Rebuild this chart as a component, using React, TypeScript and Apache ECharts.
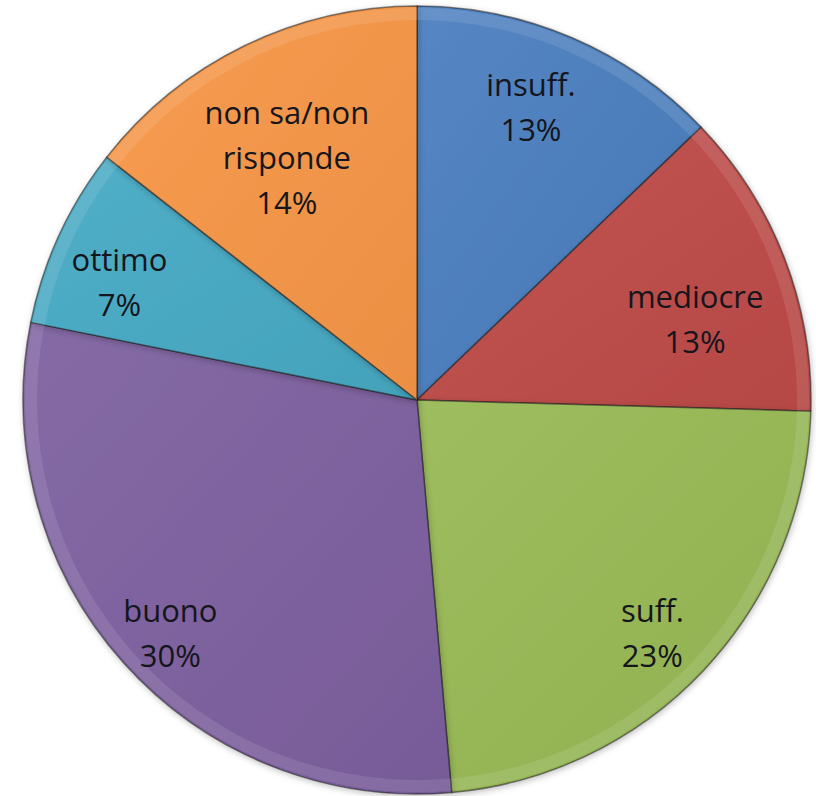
import React, { useEffect, useRef } from "react";
import * as echarts from "echarts";

const categories = ["insuff.", "mediocre", "suff.", "buono", "ottimo", "non sa/non risponde"];
// shares (%); labels show them rounded
const values = [12.8, 12.6, 23.1, 29.5, 7.4, 14.4];
const colors = ["#4A7EBF", "#BE4B48", "#98B954", "#7D60A0", "#46AAC5", "#F79646"];
// small label nudges (px) to mimic the reference's best-fit label placement
const labelNudgeX = [-8, -12, 9, -15, -15, 6];
const labelNudgeY = [-7, 30, 19, 25, 12, 37];

function shade(hex: string, amt: number): string {
  const n = parseInt(hex.slice(1), 16);
  const f = (c: number) => Math.max(0, Math.min(255, Math.round(amt >= 0 ? c + (255 - c) * amt : c * (1 + amt))));
  const r = f((n >> 16) & 255), g = f((n >> 8) & 255), b = f(n & 255);
  return `rgb(${r},${g},${b})`;
}

export default function App() {
  const ref = useRef<HTMLDivElement>(null);
  useEffect(() => {
    if (!ref.current) return;
    const chart = echarts.init(ref.current, null, { renderer: "svg" });
    const data = categories.map((name, i) => ({
      name,
      value: values[i],
      itemStyle: {
        color: {
          type: "linear",
          x: 0, y: 0, x2: 1, y2: 1,
          colorStops: [
            { offset: 0, color: shade(colors[i], 0.06) },
            { offset: 1, color: shade(colors[i], -0.05) },
          ],
        },
      },
    }));
    const center = [417, 400];
    chart.setOption({
      animation: false,
      backgroundColor: "#ffffff",
      series: [
        {
          type: "pie",
          center,
          radius: 394,
          startAngle: 90,
          clockwise: true,
          silent: true,
          label: { show: false },
          labelLine: { show: false },
          itemStyle: {
            borderColor: "rgba(30,30,30,0.55)",
            borderWidth: 1.5,
            shadowBlur: 6,
            shadowColor: "rgba(0,0,0,0.25)",
            shadowOffsetX: 1,
            shadowOffsetY: 2,
          },
          data,
        },
        {
          type: "pie",
          center,
          radius: [380, 392],
          startAngle: 90,
          clockwise: true,
          silent: true,
          label: { show: false },
          labelLine: { show: false },
          itemStyle: { color: "rgba(255,255,255,0.10)", borderWidth: 0 },
          data: categories.map((name, i) => ({ name, value: values[i] })),
        },
        {
          type: "pie",
          center,
          radius: [222, 394],
          startAngle: 90,
          clockwise: true,
          silent: true,
          itemStyle: { color: "rgba(0,0,0,0)", borderWidth: 0 },
          label: {
            show: true,
            position: "inside",
            color: "#15151c",
            fontFamily: "Open Sans",
            fontSize: 31,
            lineHeight: 45,
            formatter: (p: any) => `${String(p.name).replace("/non ", "/non\n")}\n${Math.round(p.percent)}%`,
          },
          labelLayout: (p: any) => ({ dx: labelNudgeX[p.dataIndex], dy: labelNudgeY[p.dataIndex] }),
          labelLine: { show: false },
          data: categories.map((name, i) => ({ name, value: values[i] })),
        },
      ],
    });
    return () => chart.dispose();
  }, []);
  return (
    <div
      ref={ref}
      style={{ position: "fixed", left: 0, top: 0, width: 816, height: 796 }}
    />
  );
}
